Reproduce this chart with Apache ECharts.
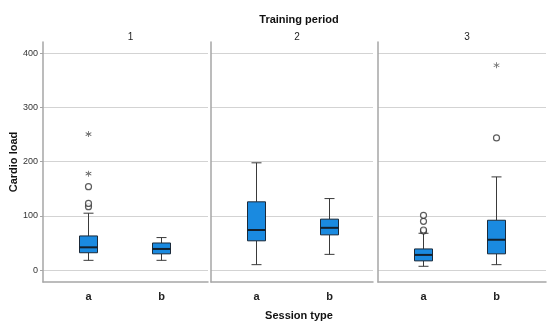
<!DOCTYPE html>
<html><head><meta charset="utf-8">
<script src="https://cdn.jsdelivr.net/npm/echarts@6/dist/echarts.min.js"></script>
<style>html,body{margin:0;padding:0;background:#fff}#c{width:550px;height:326px}</style>
</head><body><div id="c"></div>
<script>
// ---- data ----
const periods = ['1', '2', '3'];
const sessionTypes = ['a', 'b'];
const yTicks = [0, 100, 200, 300, 400];
// [min, Q1, median, Q3, max] for a, b in each period
const boxP1 = [[18, 32, 42, 63, 105], [18, 30, 39, 50, 60]];
const boxP2 = [[10, 54, 74, 126, 198], [29, 65, 78, 94, 132]];
const boxP3 = [[7, 17, 28, 39, 68], [10, 30, 56, 92, 172]];
// outliers: [session index, value]
const circlesP1 = [[0, 117], [0, 123], [0, 154]];
const circlesP2 = [];
const circlesP3 = [[0, 72], [0, 74], [0, 90], [0, 101], [1, 244]];
const starsP1 = [[0, 178], [0, 251]];
const starsP2 = [];
const starsP3 = [[1, 378]];

const boxes = [boxP1, boxP2, boxP3];
const circles = [circlesP1, circlesP2, circlesP3];
const stars = [starsP1, starsP2, starsP3];

const FONT = 'Liberation Sans, Arial, sans-serif';
const yMin = -22, yMax = 421;
const panels = [{left: 43, width: 165}, {left: 211, width: 162}, {left: 378, width: 168}];
const TOP = 42, HEIGHT = 240;
const starPath = 'path://M4.4,0L5.6,0L5.6,10L4.4,10Z M9.03,8.02L9.63,6.98L0.97,1.98L0.37,3.02Z M9.63,3.02L9.03,1.98L0.37,6.98L0.97,8.02Z';

const grid = [], xAxis = [], yAxis = [], series = [], titles = [];
panels.forEach((p, i) => {
  // decoration grid
  grid.push({left: p.left, width: p.width, top: TOP, height: HEIGHT});
  // data grid
  grid.push({left: p.left + 9, width: 146, top: TOP, height: HEIGHT});
  const gd = 2 * i, gdata = 2 * i + 1;
  xAxis.push({gridIndex: gd, type: 'value', min: 0, max: 1, axisLine: {show: true, onZero: false, lineStyle: {color: '#a6a6a6', width: 1.5}},
    axisTick: {show: false}, axisLabel: {show: false}, splitLine: {show: false}});
  yAxis.push({gridIndex: gd, type: 'value', min: yMin, max: yMax,
    axisLine: {show: true, lineStyle: {color: '#a6a6a6', width: 1.5}},
    axisTick: {show: i === 0, length: 3, lineStyle: {color: '#a6a6a6'}},
    axisLabel: {show: i === 0, showMinLabel: false, showMaxLabel: false, fontSize: 9, color: '#333', fontFamily: FONT, margin: 5,
      formatter: v => yTicks.includes(v) ? String(v) : ''},
    splitLine: {show: true, showMinLine: false, showMaxLine: false, lineStyle: {color: '#d3d3d3', width: 1}}});
  xAxis.push({gridIndex: gdata, type: 'category', data: sessionTypes,
    axisLine: {show: false}, axisTick: {show: false},
    axisLabel: {fontSize: 11, fontWeight: 'bold', color: '#222', fontFamily: FONT, margin: 9}});
  yAxis.push({gridIndex: gdata, type: 'value', min: yMin, max: yMax, show: false, splitLine: {show: false}});

  const boxData = boxes[i].map((b, k) => [k].concat(b));
  series.push({
    type: 'custom', xAxisIndex: gdata, yAxisIndex: gdata, data: boxData,
    encode: {x: 0, y: [1, 2, 3, 4, 5]},
    renderItem: function (params, api) {
      const x = api.value(0);
      const pmin = api.coord([x, api.value(1)]);
      const pq1 = api.coord([x, api.value(2)]);
      const pmed = api.coord([x, api.value(3)]);
      const pq3 = api.coord([x, api.value(4)]);
      const pmax = api.coord([x, api.value(5)]);
      const cx = pmin[0], hw = 9, cw = 5;
      const ls = {stroke: '#3a3a3a', lineWidth: 1};
      return {type: 'group', children: [
        {type: 'line', shape: {x1: cx, y1: pmax[1], x2: cx, y2: pq3[1]}, style: ls},
        {type: 'line', shape: {x1: cx, y1: pq1[1], x2: cx, y2: pmin[1]}, style: ls},
        {type: 'line', shape: {x1: cx - cw, y1: pmax[1], x2: cx + cw, y2: pmax[1]}, style: ls},
        {type: 'line', shape: {x1: cx - cw, y1: pmin[1], x2: cx + cw, y2: pmin[1]}, style: ls},
        {type: 'rect', shape: {x: cx - hw, y: pq3[1], width: 2 * hw, height: pq1[1] - pq3[1]},
          style: {fill: '#1a8ae0', stroke: '#1b2a3a', lineWidth: 1}},
        {type: 'line', shape: {x1: cx - hw, y1: pmed[1], x2: cx + hw, y2: pmed[1]}, style: {stroke: '#14202c', lineWidth: 2}}
      ]};
    }
  });
  series.push({type: 'scatter', xAxisIndex: gdata, yAxisIndex: gdata, data: circles[i], z: 5,
    symbol: 'circle', symbolSize: 6, itemStyle: {color: '#ffffff', borderColor: '#333333', borderWidth: 1.2}});
  series.push({type: 'scatter', xAxisIndex: gdata, yAxisIndex: gdata, data: stars[i], z: 5,
    symbol: starPath, symbolSize: 6, itemStyle: {color: '#333'}});

  titles.push({text: periods[i], left: p.left + p.width / 2, top: 27, textAlign: 'center',
    textStyle: {fontSize: 10, fontWeight: 'normal', color: '#222', fontFamily: FONT}});
});
titles.push({text: 'Training period', left: 294, top: 9, textAlign: 'center',
  textStyle: {fontSize: 11, fontWeight: 'bold', color: '#111', fontFamily: FONT}});
titles.push({text: 'Session type', left: 294, top: 305, textAlign: 'center',
  textStyle: {fontSize: 11, fontWeight: 'bold', color: '#111', fontFamily: FONT}});

const chart = echarts.init(document.getElementById('c'), null, {renderer: 'canvas'});
chart.setOption({
  animation: false,
  backgroundColor: '#fff',
  title: titles,
  grid, xAxis, yAxis, series,
  graphic: [{type: 'text', x: 14, y: 162, rotation: Math.PI / 2,
    style: {text: 'Cardio load', fontSize: 11, fontWeight: 'bold', fill: '#111', fontFamily: FONT, align: 'center', verticalAlign: 'middle'}}]
});
</script></body></html>
